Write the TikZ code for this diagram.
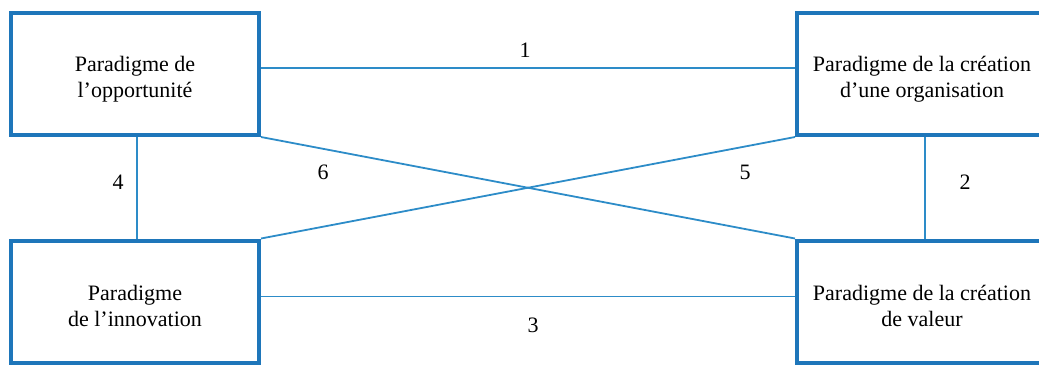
\documentclass[tikz,border=0pt]{standalone}
\usepackage{fontspec}
\setmainfont{Liberation Serif}
\usetikzlibrary{positioning,calc}
\definecolor{kek}{RGB}{30,118,186}
\definecolor{vonal}{RGB}{45,140,200}
\newcommand\lejjebb{\rule{0pt}{12.5pt}}
\tikzset{
  dob/.style={draw=kek,line width=2pt,fill=white,align=center,
    minimum width=124pt,minimum height=61pt,inner sep=2pt},
  dobj/.style={dob,minimum width=125pt},
  kap/.style={draw=vonal,line width=0.9pt},
  szam/.style={inner sep=1pt},
}
\begin{document}
\begin{tikzpicture}[x=0.5pt,y=-0.5pt,font=\fontsize{11}{13}\selectfont]
  \useasboundingbox (0,0) rectangle (1039,365);
  % four paradigms
  \node[dob]  (opp) at (135,74)    {\lejjebb Paradigme de\\ l’opportunité};
  \node[dobj] (org) at (922,74)    {\lejjebb Paradigme de la création\\ d’une organisation};
  \node[dob]  (inn) at (135,301.5) {\lejjebb Paradigme\\ de l’innovation};
  \node[dobj] (val) at (922,301.5) {\lejjebb Paradigme de la création\\ de valeur};
  % links
  \draw[kap] ([yshift=3pt]opp.east) -- ([yshift=3pt]org.west);
  \draw[kap] ([yshift=2.5pt]inn.east) -- ([yshift=2.5pt]val.west);
  \draw[kap] ([xshift=1pt]opp.south) -- ([xshift=1pt]inn.north);
  \draw[kap] ([xshift=1.5pt]org.south) -- ([xshift=1.5pt]val.north);
  \draw[kap] (opp.south east) -- (val.north west);
  \draw[kap] (inn.north east) -- (org.south west);
  \node[szam] (n1) at (525,50)  {1};
  \node[szam] (n2) at (965,182) {2};
  \node[szam] (n3) at (533,325) {3};
  \node[szam] (n4) at (118,182) {4};
  \node[szam] (n5) at (745,172) {5};
  \node[szam] (n6) at (323,172) {6};
\end{tikzpicture}
\end{document}
